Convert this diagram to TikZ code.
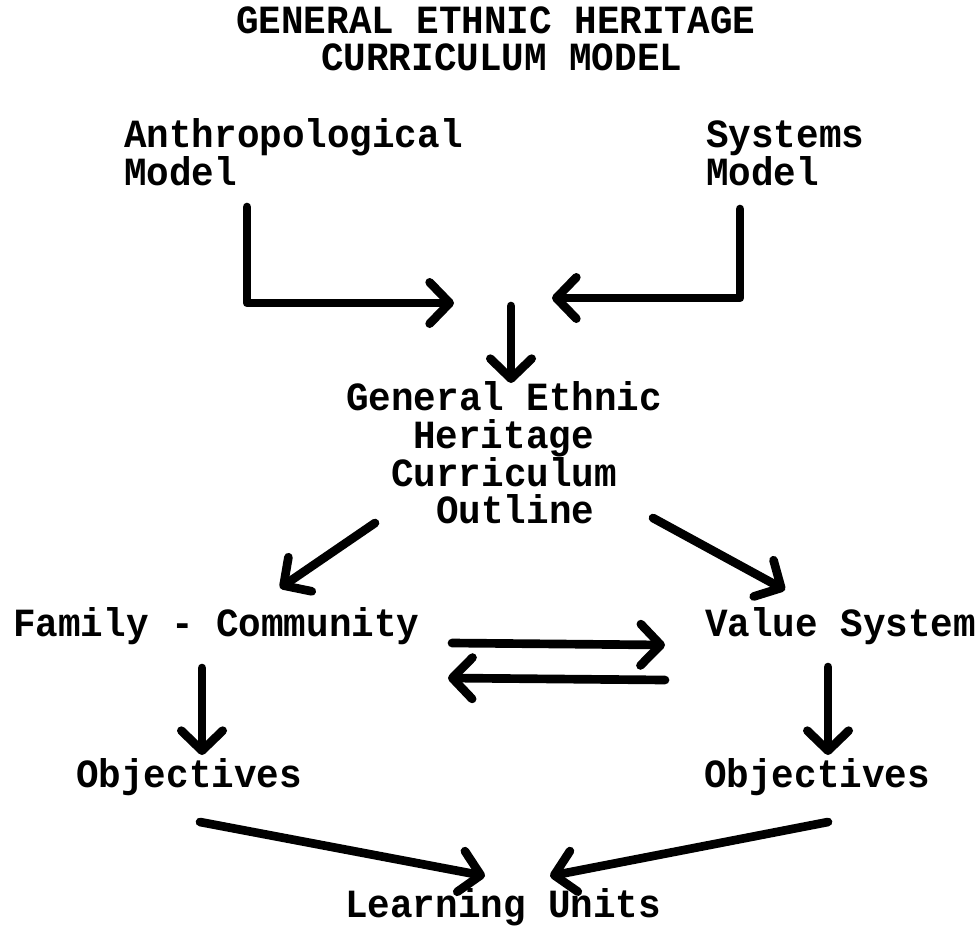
\documentclass[tikz,border=0pt]{standalone}
\usepackage{fontspec}
\newfontfamily\tw[FakeStretch=0.94]{Liberation Mono}
\usetikzlibrary{arrows.meta}
\tikzset{
  txt/.style={font=\tw\bfseries\fontsize{30}{30}\selectfont, inner sep=0pt, anchor=base west},
  conn/.style={line width=6.5pt, line cap=round, line join=round},
  arr/.style={conn, -{Straight Barb[length=15pt,width=31pt,round]}},
}
\begin{document}
\begin{tikzpicture}[x=0.75pt,y=-0.75pt]
\useasboundingbox[fill=white] (0,0) rectangle (978,946);
% texts
\node[txt] (t1) at (236,33) {GENERAL ETHNIC HERITAGE};
\node[txt] (t2) at (321,70) {CURRICULUM MODEL};
\node[txt] (an1) at (124,147) {Anthropological};
\node[txt] (an2) at (124,185) {Model};
\node[txt] (sy1) at (706,147) {Systems};
\node[txt] (sy2) at (706,185) {Model};
\node[txt] (g1) at (346,410) {General Ethnic};
\node[txt] (g2) at (413,448) {Heritage};
\node[txt] (g3) at (391,486) {Curriculum};
\node[txt] (g4) at (436,523) {Outline};
\node[txt] (fam) at (13,636) {Family - Community};
\node[txt] (val) at (705,636) {Value System};
\node[txt] (ob1) at (76,787) {Objectives};
\node[txt] (ob2) at (704,787) {Objectives};
\node[txt] (lu) at (345,917) {Learning Units};
% connector points
\coordinate (aS) at (247,207);
\coordinate (aE) at (454,303);
\coordinate (sS) at (740,209);
\coordinate (sE) at (552,298);
\coordinate (cS) at (511,306);
\coordinate (cE) at (511,383);
\coordinate (lS) at (375,523);
\coordinate (lE) at (280,588);
\coordinate (rS) at (653,518);
\coordinate (rE) at (785,590);
\coordinate (uS) at (452,643);
\coordinate (uE) at (665,645);
\coordinate (dS) at (665,680);
\coordinate (dE) at (448,678);
\coordinate (fS) at (202,668);
\coordinate (fE) at (202,755);
\coordinate (vS) at (828,667);
\coordinate (vE) at (828,755);
\coordinate (oS) at (200,822);
\coordinate (oE) at (485,876);
\coordinate (pS) at (828,822);
\coordinate (pE) at (550,876);
% connectors
\draw[arr] (aS) |- (aE);
\draw[arr] (sS) |- (sE);
\draw[arr] (cS) -- (cE);
\draw[arr] (lS) -- (lE);
\draw[arr] (rS) -- (rE);
\draw[arr] (uS) -- (uE);
\draw[arr] (dS) -- (dE);
\draw[arr] (fS) -- (fE);
\draw[arr] (vS) -- (vE);
\draw[arr] (oS) -- (oE);
\draw[arr] (pS) -- (pE);
\end{tikzpicture}
\end{document}
